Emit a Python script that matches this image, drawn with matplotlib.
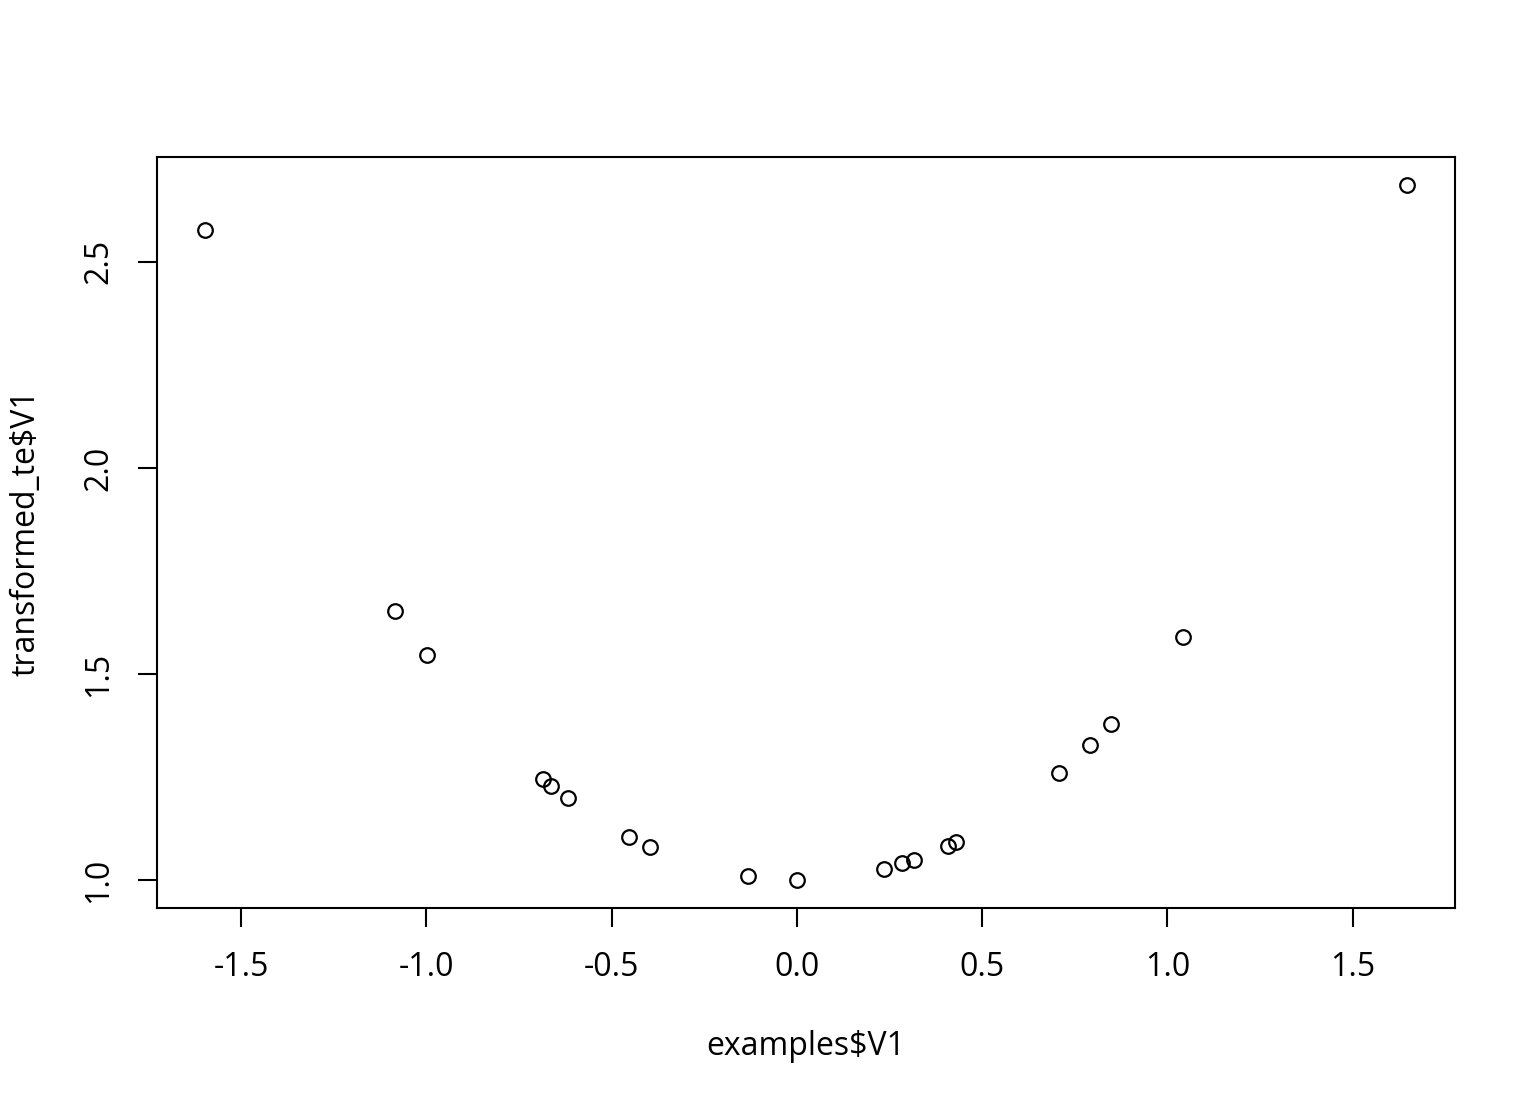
import matplotlib
matplotlib.use("Agg")
import matplotlib.pyplot as plt

x_vals = [-1.597, -1.084, -0.998, -0.685, -0.664, -0.618, -0.453, -0.397, -0.132, 0.0,
          0.235, 0.283, 0.316, 0.407, 0.429, 0.707, 0.790, 0.847, 1.041, 1.646]
y_vals = [2.578, 1.653, 1.546, 1.245, 1.228, 1.199, 1.104, 1.080, 1.010, 1.000,
          1.027, 1.041, 1.049, 1.083, 1.092, 1.260, 1.328, 1.379, 1.590, 2.687]
x_ticks = [-1.5, -1.0, -0.5, 0.0, 0.5, 1.0, 1.5]
y_ticks = [1.0, 1.5, 2.0, 2.5]
x_label = "examples$V1"
y_label = "transformed_te$V1"

plt.rcParams['font.family'] = ['Open Sans', 'DejaVu Sans']

fig = plt.figure(figsize=(15.36, 11.04), dpi=100)
ax = fig.add_axes([157/1536, 1-908/1104, (1455-157)/1536, (908-157)/1104])
ax.plot(x_vals, y_vals, linestyle='none', marker='o', markersize=10.5,
        markerfacecolor='none', markeredgecolor='black', markeredgewidth=1.6)

ax.set_xlim(-1.727, 1.776)
ax.set_ylim(0.9325, 2.7545)
ax.set_xticks(x_ticks)
ax.set_xticklabels([f"{v:.1f}" for v in x_ticks])
ax.set_yticks(y_ticks)
ax.set_yticklabels([f"{v:.1f}" for v in y_ticks], rotation=90, va='center')
for s in ax.spines.values():
    s.set_linewidth(1.5)
ax.tick_params(axis='x', direction='out', length=14, width=1.5, labelsize=23, pad=17)
ax.tick_params(axis='y', direction='out', length=14, width=1.5, labelsize=23, pad=16)
ax.set_xlabel(x_label, fontsize=23, labelpad=33)
ax.set_ylabel(y_label, fontsize=23, labelpad=29)

fig.savefig("out.png", dpi=100)
